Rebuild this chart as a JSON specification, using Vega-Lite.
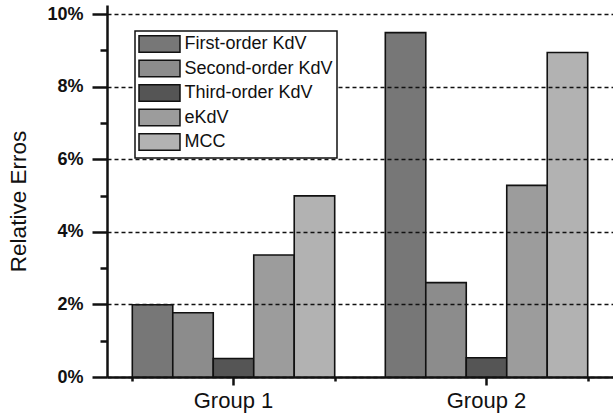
{
  "$schema": "https://vega.github.io/schema/vega-lite/v6.json",
  "width": 506,
  "height": 372,
  "autosize": {"type": "none"},
  "padding": {"left": 107, "top": 5, "right": 0, "bottom": 41},
  "background": "white",
  "config": {
    "view": {"stroke": null},
    "font": "Liberation Sans",
    "axis": {"labelFont": "Liberation Sans", "titleFont": "Liberation Sans", "domainColor": "#111", "tickColor": "#111", "labelColor": "#111", "titleColor": "#111"},
    "legend": {"labelFont": "Liberation Sans"}
  },
  "data": {
    "values": [
      {"group": "Group 1", "method": "First-order KdV", "err": 0.0199},
      {"group": "Group 1", "method": "Second-order KdV", "err": 0.0177},
      {"group": "Group 1", "method": "Third-order KdV", "err": 0.0051},
      {"group": "Group 1", "method": "eKdV", "err": 0.0336},
      {"group": "Group 1", "method": "MCC", "err": 0.0499},
      {"group": "Group 2", "method": "First-order KdV", "err": 0.0949},
      {"group": "Group 2", "method": "Second-order KdV", "err": 0.0260},
      {"group": "Group 2", "method": "Third-order KdV", "err": 0.0053},
      {"group": "Group 2", "method": "eKdV", "err": 0.0528},
      {"group": "Group 2", "method": "MCC", "err": 0.0894}
    ]
  },
  "resolve": {"axis": {"x": "independent", "y": "independent"}},
  "layer": [
    {
      "mark": {"type": "bar", "stroke": "#111", "strokeWidth": 1.6},
      "encoding": {
        "x": {
          "field": "group", "type": "nominal",
          "scale": {"paddingInner": 0.2, "paddingOuter": 0.1},
          "axis": {
            "title": null, "orient": "bottom", "labelAngle": 0,
            "labelFontSize": 22, "labelPadding": 5,
            "tickSize": 8, "tickWidth": 2.5, "domainWidth": 2.5,
            "grid": false
          }
        },
        "xOffset": {
          "field": "method", "type": "nominal",
          "scale": {"domain": ["First-order KdV", "Second-order KdV", "Third-order KdV", "eKdV", "MCC"], "paddingInner": 0, "paddingOuter": 0}
        },
        "y": {
          "field": "err", "type": "quantitative",
          "scale": {"domain": [0, 0.1025], "nice": false},
          "axis": {
            "title": "Relative Erros", "orient": "left",
            "values": [0, 0.02, 0.04, 0.06, 0.08, 0.1],
            "format": ".0%",
            "labelFontSize": 18, "labelFontWeight": "bold", "labelPadding": 9,
            "tickSize": 15, "tickWidth": 2.5, "domainWidth": 2.5,
            "grid": true, "gridColor": "#111", "gridDash": [4, 3], "gridWidth": 1.4, "gridOpacity": 1,
            "zindex": 1,
            "titleFontSize": 22.5, "titleFontWeight": "normal",
            "titleAngle": -90, "titleX": -89, "titleY": 196, "titleBaseline": "middle", "titleAlign": "center"
          }
        },
        "fill": {
          "field": "method", "type": "nominal",
          "scale": {
            "domain": ["First-order KdV", "Second-order KdV", "Third-order KdV", "eKdV", "MCC"],
            "range": ["#777777", "#8c8c8c", "#555555", "#9c9c9c", "#b2b2b2"]
          },
          "legend": {
            "title": null, "orient": "none", "legendX": 28, "legendY": 26,
            "zindex": 2,
            "strokeColor": "#111", "padding": 4, "fillColor": "white",
            "symbolType": "M-2.5,-1H2.5V1H-2.5Z", "symbolSize": 269,
            "symbolStrokeColor": "#111", "symbolStrokeWidth": 1.5,
            "symbolOffset": 11.5, "labelOffset": 16,
            "labelFont": "Liberation Sans",
            "labelFontSize": 18, "labelColor": "#111", "rowPadding": 0.5,
            "labelLimit": 300,
            "encode": {"legend": {"update": {"strokeWidth": {"value": 1.5}}}}
          }
        }
      }
    },
    {
      "mark": {"type": "bar", "opacity": 0},
      "encoding": {
        "x": {
          "field": "group", "type": "nominal",
          "axis": {
            "title": null, "orient": "bottom", "labels": false, "domain": false,
            "tickBand": "extent", "tickSize": 4, "tickWidth": 2.5, "grid": false
          }
        },
        "xOffset": {"field": "method", "type": "nominal"},
        "y": {
          "field": "err", "type": "quantitative",
          "axis": {
            "title": null, "orient": "left", "labels": false, "domain": false,
            "values": [0.01, 0.03, 0.05, 0.07, 0.09],
            "tickSize": 7, "tickWidth": 2.5, "grid": false
          }
        }
      }
    }
  ]
}
